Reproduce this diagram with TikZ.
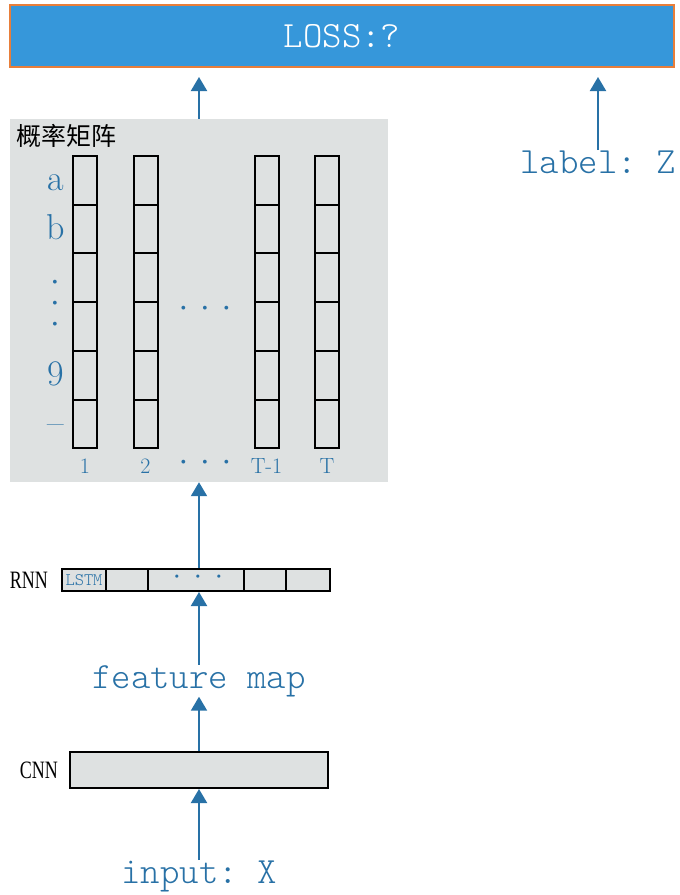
\documentclass[tikz,border=0pt]{standalone}
\usepackage{fontspec}
\usepackage{graphicx}
\setmonofont{Latin Modern Mono Light}
\newfontfamily\cjk{Noto Sans CJK SC}
\newfontfamily\sideserif{Liberation Serif}
\usetikzlibrary{arrows.meta}
\usetikzlibrary{positioning}
\definecolor{lossblue}{RGB}{54,151,218}
\definecolor{lossorange}{RGB}{232,126,58}
\definecolor{flowblue}{RGB}{40,113,166}
\definecolor{panelgray}{RGB}{222,225,225}
\newcommand{\threedots}[1]{\makebox[#1]{\textbullet}\makebox[#1]{\textbullet}\makebox[#1]{\textbullet}}
\tikzset{
	flow/.style={draw=flowblue, line width=2pt, -{Triangle[width=16pt,length=14pt]}},
	bigtt/.style={font=\fontsize{37}{40}\selectfont\ttfamily, text=flowblue, inner sep=0pt},
	cell/.style={draw=black, line width=2pt, minimum width=24pt, minimum height=48.7pt, inner sep=0pt},
	rnncell/.style={draw=black, fill=panelgray, line width=2pt, minimum height=22pt, inner sep=0pt},
	rowlab/.style={font=\fontsize{36}{36}\selectfont, text=flowblue, anchor=base, inner sep=0pt},
	collab/.style={font=\fontsize{22}{22}\selectfont, text=flowblue, anchor=base, inner sep=0pt},
	dotlab/.style={text=flowblue, font=\fontsize{14}{14}\selectfont, inner sep=0pt},
	sidelab/.style={font=\sideserif\fontsize{25}{25}\selectfont, inner sep=0pt},
}

\begin{document}
\begin{tikzpicture}[x=1pt,y=-1pt]
			\useasboundingbox (0,0) rectangle (680,895);
			
			% loss on top
			\node[draw=lossorange, fill=lossblue, line width=2pt, minimum width=664pt, minimum height=62pt,
				text=white, font=\fontsize{37}{40}\selectfont\ttfamily] (loss) at (342,36) {LOSS:?};
			\node[bigtt, anchor=base] (lab) at (598,173) {label: Z};
			
			% probability matrix
			\node[fill=panelgray, minimum width=378pt, minimum height=363pt, inner sep=0pt] (mat) at (199,300.5) {};
			\node[font=\cjk\fontsize{25}{25}\selectfont, anchor=north west, inner sep=0pt] (title) at (16,124) {概率矩阵};
			\foreach \c/\x in {1/85, 2/145.5, T1/266.5, T/327}
				\foreach \r in {1,...,6}
					\node[cell] (c\c-\r) at (\x,{131.65+48.7*\r}) {};
			
			\foreach \t/\r in {a/1, b/2, 9/5, {--}/6}
				\node[rowlab] (row\r) at (55.5,{142+48.7*\r}) {\t};
			\node[dotlab, align=center, font=\fontsize{14}{21}\selectfont] (vdots) at (55,304) {\textbullet\\\textbullet\\\textbullet};
			\node[dotlab] (hdots) at (205,309) {\threedots{21.5pt}};
			
			\coordinate (labrow) at (0,473);
			\foreach \c/\t in {1/1, 2/2, T1/T-1, T/T}
				\node[collab] (n\c) at (c\c-6 |- labrow) {\t};
			\node[dotlab] (ndots) at (205,463) {\threedots{21.5pt}};
			
			% rnn row
			\foreach \n/\x/\w in {1/84/44, 2/127/42, 3/196/96, 4/265/42, 5/308/44}
				\node[rnncell, minimum width=\w pt] (rnn\n) at (\x,580) {};
			\node[font=\fontsize{17.6}{18}\selectfont\ttfamily, text=flowblue, inner sep=0pt] (lstm) at (rnn1) {LSTM};
			\node[dotlab, font=\fontsize{12}{12}\selectfont] (rdots) at (198,577) {\threedots{21pt}};
			\node[sidelab, left=13pt of rnn1] (rnnlab) {\scalebox{0.72}[1]{RNN}};
			
			% cnn and input
			\node[bigtt, anchor=base] (fm) at (199,688) {feature map};
			\node[draw=black, fill=panelgray, line width=2pt, minimum width=258pt, minimum height=36pt] (cnn) at (199,770) {};
			\node[sidelab, left=11pt of cnn] (cnnlab) {\scalebox{0.72}[1]{CNN}};
			\node[bigtt, anchor=base] (in) at (199,883) {input: X};
			
			% arrows
			\draw[flow, shorten >=9pt] (mat.north) -- (mat.north |- loss.south);
			\draw[flow, shorten >=9pt] (lab.north) -- (lab.north |- loss.south);
			\draw[flow] (rnn3.north -| mat.south) -- (mat.south);
			\draw[flow] (fm.north) -- (fm.north |- rnn3.south);
			\draw[flow] (cnn.north) -- (fm.south);
			\draw[flow] (in.north) -- (cnn.south);
			
		\end{tikzpicture}
\end{document}
